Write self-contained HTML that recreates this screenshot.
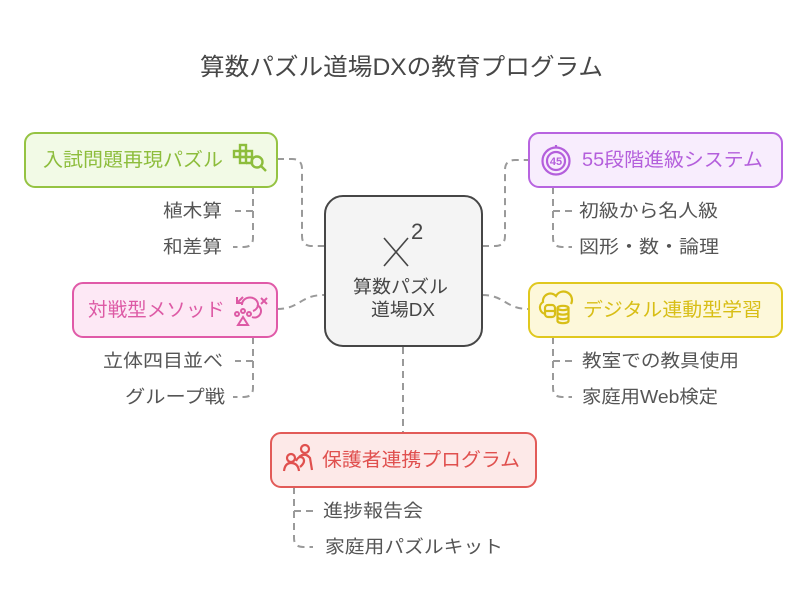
<!DOCTYPE html>
<html><head><meta charset="utf-8">
<style>
html,body{margin:0;padding:0;background:#fff;}
svg{display:block;}
text{font-family:"Liberation Sans","Noto Sans CJK JP",sans-serif;}
</style></head>
<body>
<svg width="806" height="608" viewBox="0 0 806 608" xmlns="http://www.w3.org/2000/svg">
<rect width="806" height="608" fill="#fff"/>
<!-- Title -->
<text x="200" y="75" font-size="24" fill="#474747" textLength="403" lengthAdjust="spacingAndGlyphs">算数パズル道場DXの教育プログラム</text>

<!-- connectors -->
<g fill="none" stroke="#9a9a9a" stroke-width="2" stroke-dasharray="7 5">
  <path d="M277,159 L292,159 Q302,159 302,169 L302,236 Q302,246 312,246 L324,246"/>
  <path d="M253,187 L253,238 Q253,247 244,247 L233,247"/>
  <path d="M253,211 L235,211"/>
  <path d="M482,246 L495,246 Q505,246 505,236 L505,170 Q505,160 515,160 L529,160"/>
  <path d="M553,187 L553,238 Q553,247 562,247 L572,247"/>
  <path d="M553,211 L572,211"/>
  <path d="M277,309 C300,309 300,295 324,295"/>
  <path d="M253,337 L253,388 Q253,397 244,397 L233,397"/>
  <path d="M253,361 L235,361"/>
  <path d="M482,295 C505,295 505,309 529,309"/>
  <path d="M553,337 L553,388 Q553,397 562,397 L572,397"/>
  <path d="M553,361 L572,361"/>
  <path d="M403,347 L403,433"/>
  <path d="M294,487 L294,538 Q294,547 303,547 L313,547"/>
  <path d="M294,511 L313,511"/>
</g>

<!-- Center box -->
<rect x="325" y="196" width="157" height="150" rx="18" fill="#f4f4f4" stroke="#464646" stroke-width="2"/>
<g stroke="#464646" stroke-width="1.6" fill="none">
  <line x1="384" y1="238" x2="408" y2="266"/>
  <line x1="408" y1="238" x2="384" y2="266"/>
</g>
<text x="411" y="239" font-size="22" fill="#464646">2</text>
<text x="353" y="293" font-size="18" fill="#464646" textLength="95" lengthAdjust="spacingAndGlyphs">算数パズル</text>
<text x="371" y="316" font-size="18" fill="#464646" textLength="64" lengthAdjust="spacingAndGlyphs">道場DX</text>

<!-- Green box -->
<rect x="25" y="133" width="252" height="54" rx="10" fill="#f2fae6" stroke="#95c342" stroke-width="2"/>
<text x="43" y="166" font-size="19" fill="#8dbd3c" textLength="180" lengthAdjust="spacingAndGlyphs">入試問題再現パズル</text>
<g fill="none" stroke="#8dbd3c" stroke-width="2.4">
  <rect x="240" y="145" width="6" height="6"/>
  <rect x="234" y="151" width="6" height="6"/>
  <rect x="240" y="151" width="6" height="6"/>
  <rect x="246" y="151" width="6" height="6"/>
  <rect x="240" y="157" width="6" height="6"/>
  <path d="M246,163 L252,163 L252,157"/>
  <circle cx="257" cy="162" r="5.5"/>
  <line x1="261" y1="166" x2="266" y2="171"/>
</g>
<text x="222" y="217" font-size="18" fill="#555" text-anchor="end" textLength="59" lengthAdjust="spacingAndGlyphs">植木算</text>
<text x="222" y="253" font-size="18" fill="#555" text-anchor="end" textLength="59" lengthAdjust="spacingAndGlyphs">和差算</text>

<!-- Purple box -->
<rect x="529" y="133" width="253" height="54" rx="10" fill="#f8edfd" stroke="#b864e0" stroke-width="2"/>
<g fill="none" stroke="#b45fdc" stroke-width="2.2">
  <circle cx="556" cy="161" r="13.5"/>
  <circle cx="556" cy="161" r="9"/>
  <line x1="556" y1="145" x2="556" y2="148"/>
</g>
<text x="556" y="165" font-size="11" font-weight="bold" fill="#b45fdc" text-anchor="middle">45</text>
<text x="582" y="166" font-size="19" fill="#b45fdc" textLength="181" lengthAdjust="spacingAndGlyphs">55段階進級システム</text>
<text x="579" y="217" font-size="18" fill="#555" textLength="139" lengthAdjust="spacingAndGlyphs">初級から名人級</text>
<text x="579" y="253" font-size="18" fill="#555" textLength="140" lengthAdjust="spacingAndGlyphs">図形・数・論理</text>

<!-- Pink box -->
<rect x="73" y="283" width="204" height="54" rx="10" fill="#fde8f5" stroke="#e05aa8" stroke-width="2"/>
<text x="88" y="316" font-size="19" fill="#dd5aa5" textLength="137" lengthAdjust="spacingAndGlyphs">対戦型メソッド</text>
<g fill="none" stroke="#dd5aa5" stroke-width="2">
  <path d="M242,305 A8,7 0 1 1 253,311"/>
  <path d="M237,303 L243,297 M237,297 L237,303 L243,303" />
  <path d="M257,305 A6.5,6.5 0 1 1 252,317"/>
  <path d="M261,298 L267,304 M267,298 L261,304"/>
  <circle cx="237" cy="314" r="2"/>
  <circle cx="243" cy="311" r="2"/>
  <circle cx="249" cy="314" r="2"/>
  <path d="M243,317 L238,325 L248,325 Z"/>
</g>
<text x="223" y="367" font-size="18" fill="#555" text-anchor="end" textLength="120" lengthAdjust="spacingAndGlyphs">立体四目並べ</text>
<text x="225" y="403" font-size="18" fill="#555" text-anchor="end" textLength="100" lengthAdjust="spacingAndGlyphs">グループ戦</text>

<!-- Yellow box -->
<rect x="529" y="283" width="253" height="54" rx="10" fill="#fdf8da" stroke="#e0c81e" stroke-width="2"/>
<g fill="none" stroke="#d8be16" stroke-width="2.2">
  <path d="M546,314 A6.5,6.5 0 0 1 543,302 A7.5,7.5 0 0 1 556,296 A8.5,8.5 0 0 1 571,304"/>
  <rect x="545" y="305" width="10" height="12" rx="3"/>
  <line x1="545" y1="311" x2="555" y2="311"/>
  <ellipse cx="563" cy="308" rx="5.5" ry="2.2"/>
  <path d="M557.5,308 L557.5,321 A5.5,2.2 0 0 0 568.5,321 L568.5,308 M557.5,312.5 A5.5,2.2 0 0 0 568.5,312.5 M557.5,317 A5.5,2.2 0 0 0 568.5,317"/>
</g>
<text x="583" y="316" font-size="19" fill="#d8be16" textLength="179" lengthAdjust="spacingAndGlyphs">デジタル連動型学習</text>
<text x="582" y="367" font-size="18" fill="#555" textLength="157" lengthAdjust="spacingAndGlyphs">教室での教具使用</text>
<text x="582" y="403" font-size="18" fill="#555" textLength="136" lengthAdjust="spacingAndGlyphs">家庭用Web検定</text>

<!-- Red box -->
<rect x="271" y="433" width="265" height="54" rx="10" fill="#fde9e8" stroke="#e25b58" stroke-width="2"/>
<g fill="none" stroke="#e0504e" stroke-width="2.2">
  <circle cx="305" cy="449" r="4"/>
  <path d="M299,457 Q305,452 310,458 L312,470"/>
  <circle cx="291" cy="458" r="4"/>
  <path d="M284,471 Q285,463 291,463 Q298,463 299,471"/>
  <path d="M296,461 Q299,455 303,458 Q306,462 300,467"/>
</g>
<text x="322" y="466" font-size="19" fill="#e0504e" textLength="198" lengthAdjust="spacingAndGlyphs">保護者連携プログラム</text>
<text x="323" y="517" font-size="18" fill="#555" textLength="100" lengthAdjust="spacingAndGlyphs">進捗報告会</text>
<text x="325" y="553" font-size="18" fill="#555" textLength="178" lengthAdjust="spacingAndGlyphs">家庭用パズルキット</text>
</svg>
</body></html>
